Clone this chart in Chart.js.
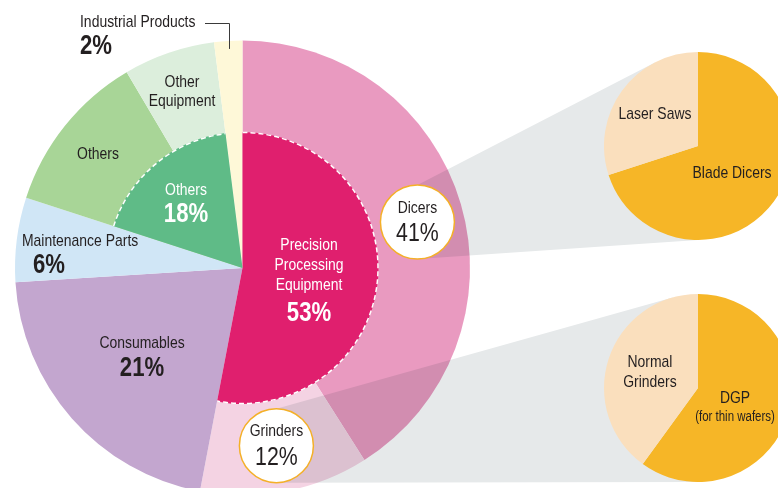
<!DOCTYPE html>
<html>
<head>
<meta charset="utf-8">
<script src="https://cdn.jsdelivr.net/npm/chart.js@4.4.1/dist/chart.umd.min.js"></script>
<style>
html, body { margin: 0; padding: 0; background: #fff; }
body { width: 778px; height: 488px; overflow: hidden; position: relative; }
canvas { position: absolute; }
</style>
</head>
<body>
<canvas id="mainPie" width="778" height="500" style="left:0;top:0"></canvas>
<canvas id="innerPie" width="778" height="500" style="left:0;top:0"></canvas>
<canvas id="dicerPie" width="188" height="188"></canvas>
<canvas id="grinderPie" width="188" height="188"></canvas>
<script>
// Outer ring (share of sales, %)
const outerLabels = ['Dicers', 'Grinders', 'Consumables', 'Maintenance Parts', 'Others', 'Other Equipment', 'Industrial Products'];
const outerValues = [41, 12, 21, 6, 11.5, 6.5, 2];
const outerColors = ['#E99AC0', '#F4D3E3', '#C3A6CF', '#D0E6F6', '#A8D597', '#DCEEDC', '#FEF8D8'];

// Inner circle (only two groups are drawn, the rest is see-through)
const innerLabels = ['Precision Processing Equipment', '', 'Others', ''];
const innerValues = [53, 27, 18, 2];
const innerColors = ['#E01F6E', 'rgba(0,0,0,0)', '#5FBB87', 'rgba(0,0,0,0)'];

// Breakdown pies
const dicerLabels = ['Blade Dicers', 'Laser Saws'];
const dicerValues = [70, 30];
const grinderLabels = ['DGP', 'Normal Grinders'];
const grinderValues = [60, 40];
const breakdownColors = ['#F6B627', '#FADFBD'];

// Layout
const FONT = '"Liberation Sans", Arial, sans-serif';
const NARROW = 0.82;   // squeeze the text like a narrow face
const TEXT = '#231F20';
const FUNNEL = '#E6E9EA';
const BADGE_R = 37;
const INNER_R = 136;
const SMALL_R = 94;
const badgeSpot = [0.51, 0.5];   // where along the slice the badge sits
const smallPies = [
    { id: 'dicerPie', cx: 698, cy: 146, from: 0, labels: dicerLabels, values: dicerValues },
    { id: 'grinderPie', cx: 698, cy: 388, from: 1, labels: grinderLabels, values: grinderValues }
];

function drawText(ctx, text, x, y, size, bold, color, align) {
    ctx.save();
    ctx.font = (bold ? 'bold ' : '') + size + 'px ' + FONT;
    ctx.fillStyle = color || TEXT;
    ctx.textAlign = align || 'center';
    ctx.textBaseline = 'middle';
    ctx.translate(x, y);
    ctx.scale(NARROW, 1);
    ctx.fillText(text, 0, 0);
    ctx.restore();
}

function badgeCenter(arc, i) {
    const mid = arc.startAngle + (arc.endAngle - arc.startAngle) * badgeSpot[i];
    const rr = arc.outerRadius * 0.795;
    return { x: arc.x + Math.cos(mid) * rr, y: arc.y + Math.sin(mid) * rr };
}

// Text placed on the outer ring
const outerText = [
    { text: 'Industrial Products', x: 80, y: 22, size: 17, align: 'left' },
    { text: '2%', x: 80, y: 47, size: 27, bold: true, align: 'left' },
    { text: 'Other', x: 182, y: 82, size: 17 },
    { text: 'Equipment', x: 182, y: 101, size: 17 },
    { text: 'Others', x: 98, y: 154, size: 17 },
    { text: 'Maintenance Parts', x: 22, y: 241, size: 17, align: 'left' },
    { text: '6%', x: 33, y: 266, size: 27, bold: true, align: 'left' },
    { text: 'Consumables', x: 142, y: 343, size: 17 },
    { text: '21%', x: 142, y: 369, size: 27, bold: true }
];

const innerText = [
    { text: 'Precision', x: 309, y: 245, size: 17 },
    { text: 'Processing', x: 309, y: 265, size: 17 },
    { text: 'Equipment', x: 309, y: 285, size: 17 },
    { text: '53%', x: 309, y: 314, size: 27, bold: true },
    { text: 'Others', x: 186, y: 190, size: 17 },
    { text: '18%', x: 186, y: 215, size: 27, bold: true }
];

const smallText = [
    { text: 'Laser Saws', x: 655, y: 114, size: 17 },
    { text: 'Blade Dicers', x: 732, y: 173, size: 17 },
    { text: 'Normal', x: 650, y: 362, size: 17 },
    { text: 'Grinders', x: 650, y: 382, size: 17 },
    { text: 'DGP', x: 735, y: 398, size: 17 },
    { text: '(for thin wafers)', x: 735, y: 417, size: 14 }
];

const mainDecor = {
    id: 'mainDecor',
    afterDatasetsDraw(chart) {
        const ctx = chart.ctx;
        const arcs = chart.getDatasetMeta(0).data;

        // zoom funnels towards the breakdown pies
        ctx.save();
        ctx.globalCompositeOperation = 'multiply';
        ctx.fillStyle = FUNNEL;
        smallPies.forEach(sp => {
            const c = badgeCenter(arcs[sp.from], sp.from);
            const top = { x: c.x, y: c.y - BADGE_R };
            const bot = { x: c.x, y: c.y + BADGE_R };
            const dx = sp.cx - top.x, dy = sp.cy - top.y;
            const dist = Math.hypot(dx, dy);
            const beta = Math.asin(SMALL_R / dist);
            const a = Math.atan2(dy, dx) - beta;
            const len = dist * Math.cos(beta);
            ctx.beginPath();
            ctx.moveTo(top.x, top.y);
            ctx.lineTo(top.x + len * Math.cos(a), top.y + len * Math.sin(a));
            ctx.lineTo(sp.cx, sp.cy);
            ctx.lineTo(sp.cx, sp.cy + SMALL_R);
            ctx.lineTo(bot.x, bot.y);
            ctx.closePath();
            ctx.fill();
        });
        ctx.restore();

        // leader line for the thin slice
        ctx.save();
        const ind = arcs[6];
        const m = (ind.startAngle + ind.endAngle) / 2;
        const ex = Math.round(ind.x + Math.cos(m) * (ind.outerRadius - 8)) + 0.5;
        const ey = ind.y + Math.sin(m) * (ind.outerRadius - 8);
        ctx.strokeStyle = '#3A3A3A';
        ctx.lineWidth = 1;
        ctx.beginPath();
        ctx.moveTo(ex, ey);
        ctx.lineTo(ex, 23.5);
        ctx.lineTo(205, 23.5);
        ctx.stroke();
        ctx.restore();

        outerText.forEach(t => drawText(ctx, t.text, t.x, t.y, t.size, t.bold, TEXT, t.align));

        // badges for Dicers / Grinders
        [0, 1].forEach(i => {
            const c = badgeCenter(arcs[i], i);
            ctx.save();
            ctx.beginPath();
            ctx.arc(c.x, c.y, BADGE_R, 0, Math.PI * 2);
            ctx.fillStyle = '#fff';
            ctx.fill();
            ctx.lineWidth = 1.5;
            ctx.strokeStyle = '#F4B028';
            ctx.stroke();
            ctx.restore();
            drawText(ctx, outerLabels[i], c.x, c.y - 14, 17, false, TEXT);
            drawText(ctx, outerValues[i] + '%', c.x, c.y + 12, 26, false, TEXT);
        });
    }
};

const innerDecor = {
    id: 'innerDecor',
    afterDatasetsDraw(chart) {
        const ctx = chart.ctx;
        chart.getDatasetMeta(0).data.forEach((arc, i) => {
            if (!innerLabels[i]) return;
            ctx.save();
            ctx.beginPath();
            ctx.arc(arc.x, arc.y, arc.outerRadius - 0.5, arc.startAngle, arc.endAngle);
            ctx.setLineDash([5, 3]);
            ctx.strokeStyle = '#fff';
            ctx.lineWidth = 1.5;
            ctx.stroke();
            ctx.restore();
        });
        innerText.forEach(t => drawText(ctx, t.text, t.x, t.y, t.size, t.bold, '#fff', t.align));
    }
};

function smallDecor(sp) {
    return {
        id: 'smallDecor',
        afterDatasetsDraw(chart) {
            const ox = sp.cx - SMALL_R, oy = sp.cy - SMALL_R;
            smallText.forEach(t => {
                if (t.y < oy || t.y > oy + SMALL_R * 2) return;
                drawText(chart.ctx, t.text, t.x - ox, t.y - oy, t.size, t.bold, TEXT, t.align);
            });
        }
    };
}

const baseOptions = {
    responsive: false,
    animation: false,
    events: [],
    plugins: { legend: { display: false }, tooltip: { enabled: false } }
};

// main pie: chart area is a 455px square centred on (242.5, 268)
new Chart(document.getElementById('mainPie'), {
    type: 'pie',
    data: {
        labels: outerLabels,
        datasets: [{ data: outerValues, backgroundColor: outerColors, borderWidth: 0, hoverOffset: 0, offset: 0 }]
    },
    options: Object.assign({}, baseOptions, {
        layout: { padding: { left: 15, top: 40.5, right: 308, bottom: 4.5 } }
    }),
    plugins: [mainDecor]
});

new Chart(document.getElementById('innerPie'), {
    type: 'pie',
    data: {
        labels: innerLabels,
        datasets: [{ data: innerValues, backgroundColor: innerColors, borderWidth: 0, hoverOffset: 0, offset: 0 }]
    },
    options: Object.assign({}, baseOptions, {
        radius: INNER_R,
        layout: { padding: { left: 15, top: 40.5, right: 308, bottom: 4.5 } }
    }),
    plugins: [innerDecor]
});

smallPies.forEach(sp => {
    const el = document.getElementById(sp.id);
    el.style.left = (sp.cx - SMALL_R) + 'px';
    el.style.top = (sp.cy - SMALL_R) + 'px';
    new Chart(el, {
        type: 'pie',
        data: {
            labels: sp.labels,
            datasets: [{ data: sp.values, backgroundColor: breakdownColors, borderWidth: 0, hoverOffset: 0, offset: 0 }]
        },
        options: Object.assign({}, baseOptions, { layout: { padding: 0 } }),
        plugins: [smallDecor(sp)]
    });
});
</script>
</body>
</html>
